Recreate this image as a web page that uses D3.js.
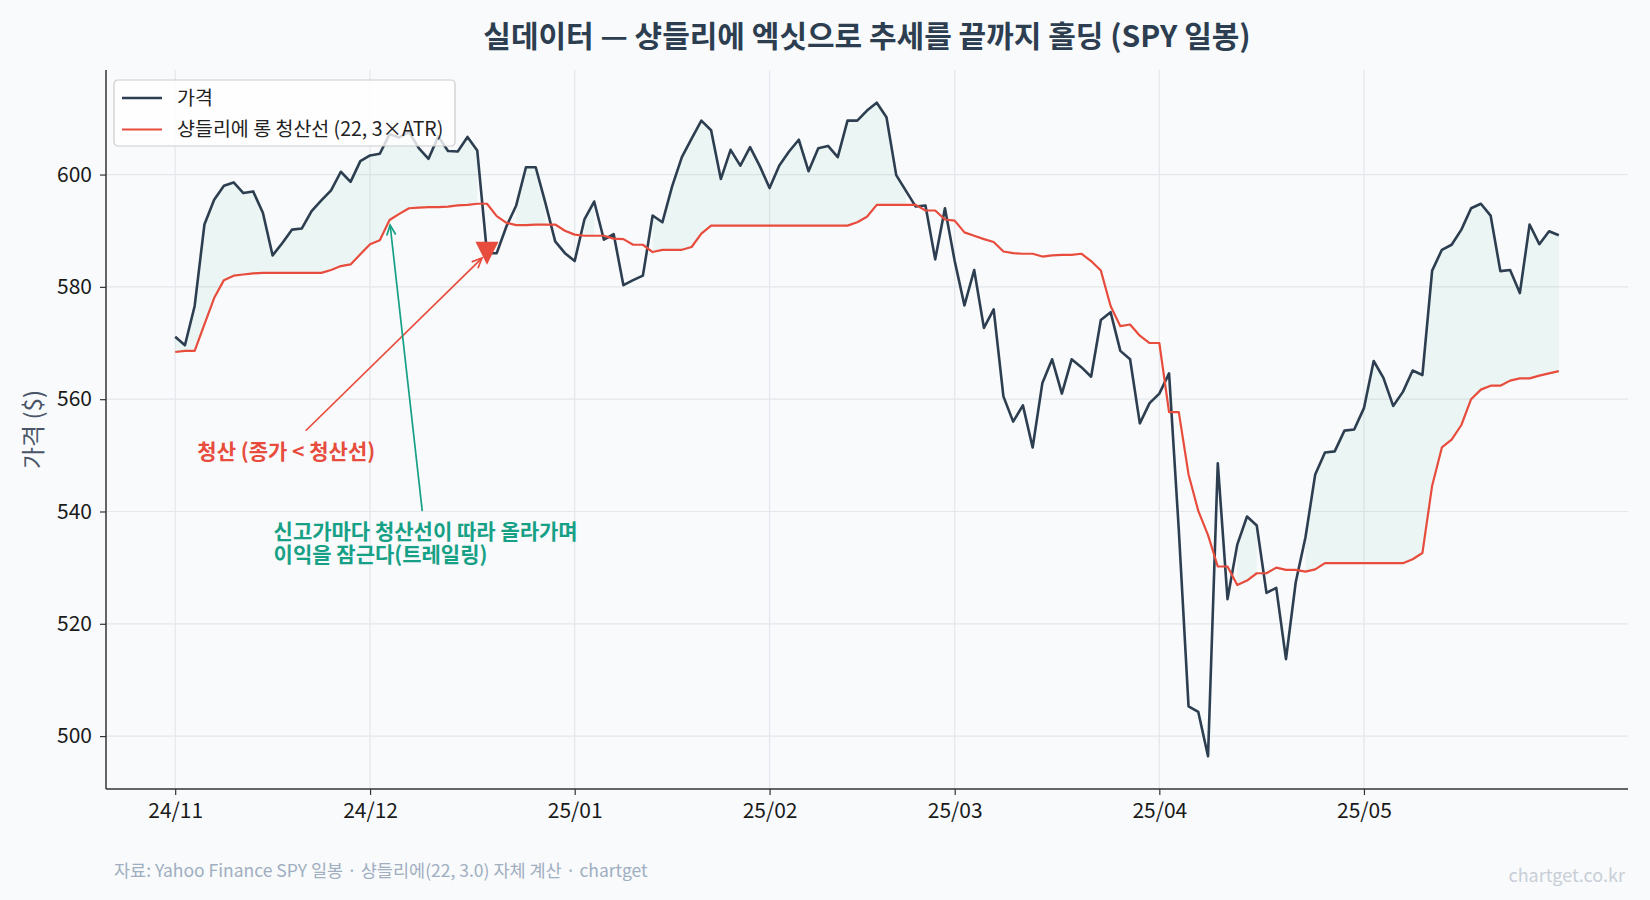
<!DOCTYPE html>
<html>
<head>
<meta charset="utf-8">
<script src="https://d3js.org/d3.v7.min.js"></script>
<style>
  body { margin: 0; background: #f8fafc; }
  svg { display: block; font-family: "Noto Sans CJK KR", "Noto Sans", sans-serif; }
</style>
</head>
<body>
<svg id="chart" width="1650" height="900"></svg>
<script>
// SPY daily close, 2024-11-01 .. 2025-05-30 (one value per trading day)
const price = [
  571.1, 569.6, 576.6, 591.1, 595.5, 598.0, 598.6, 596.7, 597.0, 593.2,
  585.6, 587.8, 590.2, 590.4, 593.5, 595.4, 597.2, 600.5, 598.7, 602.4,
  603.4, 603.7, 607.2, 606.6, 607.6, 604.7, 602.8, 606.8, 604.2, 604.1,
  606.7, 604.3, 586.0, 586.0, 590.8, 594.5, 601.3, 601.3, 594.9, 588.1,
  586.0, 584.6, 592.0, 595.2, 588.4, 589.4, 580.3, 581.2, 582.0, 592.7,
  591.5, 597.9, 603.1, 606.4, 609.6, 607.9, 599.2, 604.4, 601.6, 604.9,
  601.5, 597.6, 601.6, 604.1, 606.2, 600.6, 604.7, 605.1, 603.1, 609.6,
  609.6, 611.4, 612.8, 610.2, 599.9, 597.1, 594.3, 594.5, 584.9, 594.0,
  584.6, 576.7, 583.0, 572.7, 576.0, 560.5, 556.0, 558.9, 551.4, 562.9,
  567.1, 561.0, 567.1, 565.7, 564.0, 574.1, 575.5, 568.6, 567.1, 555.7,
  559.3, 561.0, 564.6, 536.7, 505.3, 504.3, 496.4, 548.6, 524.4, 534.1,
  539.1, 537.5, 525.5, 526.4, 513.7, 527.4, 535.4, 546.6, 550.5, 550.7,
  554.4, 554.6, 558.4, 566.8, 563.8, 558.8, 561.3, 565.1, 564.3, 582.9,
  586.6, 587.5, 590.2, 594.0, 594.8, 592.7, 582.8, 583.0, 578.9, 591.1,
  587.6, 589.9, 589.2
];

// chandelier long exit (22, 3xATR)
const stopLine = [
  568.4, 568.6, 568.6, 573.3, 578.0, 581.2, 582.0, 582.2, 582.4, 582.5,
  582.5, 582.5, 582.5, 582.5, 582.5, 582.5, 583.0, 583.7, 584.0, 585.8,
  587.6, 588.3, 591.9, 593.0, 594.0, 594.1, 594.2, 594.2, 594.3, 594.5,
  594.6, 594.8, 594.8, 592.6, 591.4, 591.0, 591.0, 591.1, 591.1, 591.1,
  590.0, 589.3, 589.1, 589.1, 589.1, 588.6, 588.5, 587.5, 587.5, 586.2,
  586.6, 586.6, 586.6, 587.1, 589.5, 590.9, 590.9, 590.9, 590.9, 590.9,
  590.9, 590.9, 590.9, 590.9, 590.9, 590.9, 590.9, 590.9, 590.9, 590.9,
  591.5, 592.5, 594.6, 594.6, 594.6, 594.6, 594.6, 593.6, 593.6, 592.0,
  591.8, 589.7, 589.1, 588.5, 588.0, 586.3, 586.0, 585.9, 585.9, 585.4,
  585.6, 585.7, 585.7, 585.9, 584.6, 582.9, 576.6, 573.0, 573.3, 571.3,
  570.0, 570.0, 557.7, 557.7, 546.6, 540.1, 535.8, 530.2, 530.2, 526.9,
  527.7, 529.0, 529.0, 530.0, 529.6, 529.6, 529.3, 529.7, 530.8, 530.8,
  530.8, 530.8, 530.8, 530.8, 530.8, 530.8, 530.8, 531.5, 532.6, 544.6,
  551.4, 552.8, 555.4, 560.0, 561.7, 562.4, 562.4, 563.3, 563.7, 563.7,
  564.2, 564.6, 565.0
];

// first trading day of each month (index) and its label
const monthIdx = [0, 20, 41, 61, 80, 101, 122];
const monthLabels = ['24/11', '24/12', '25/01', '25/02', '25/03', '25/04', '25/05'];
const yTicks = [500, 520, 540, 560, 580, 600];

const exitIdx = 32; // close < stop line

const svg = d3.select('#chart');
const W = 1650, H = 900;
const m = {left: 106, right: 22, top: 70, bottom: 111};

svg.append('rect').attr('width', W).attr('height', H).attr('fill', '#f8fafc');

const n = price.length;
const xPad = (n - 1) * 0.05;
const x = d3.scaleLinear()
  .domain([-xPad, n - 1 + xPad])
  .range([m.left, W - m.right]);

const lo = d3.min([d3.min(price), d3.min(stopLine)]);
const hi = d3.max([d3.max(price), d3.max(stopLine)]);
const yPad = (hi - lo) * 0.05;
const y = d3.scaleLinear()
  .domain([lo - yPad, hi + yPad])
  .range([H - m.bottom, m.top]);

// grid
const grid = svg.append('g');
grid.selectAll('.gy').data(yTicks).join('line')
  .attr('x1', m.left).attr('x2', W - m.right)
  .attr('y1', d => y(d)).attr('y2', d => y(d))
  .attr('stroke', '#e4e7eb').attr('stroke-width', 1.2);
grid.selectAll('.gx').data(monthIdx).join('line')
  .attr('x1', d => x(d)).attr('x2', d => x(d))
  .attr('y1', m.top).attr('y2', H - m.bottom)
  .attr('stroke', '#e4e7eb').attr('stroke-width', 1.2);

const idx = d3.range(n);

// profit zone fill (price above stop)
const area = d3.area()
  .defined(i => price[i] > stopLine[i])
  .x(i => x(i))
  .y0(i => y(stopLine[i]))
  .y1(i => y(price[i]));
svg.append('path').datum(idx)
  .attr('d', area)
  .attr('fill', '#27ae60').attr('fill-opacity', 0.06);

const line = vals => d3.line().x(i => x(i)).y(i => y(vals[i]))(idx);

svg.append('path').attr('d', line(price))
  .attr('fill', 'none').attr('stroke', '#2c3e50').attr('stroke-width', 2.6)
  .attr('stroke-linejoin', 'round');
svg.append('path').attr('d', line(stopLine))
  .attr('fill', 'none').attr('stroke', '#e74c3c').attr('stroke-width', 2.2)
  .attr('stroke-linejoin', 'round');

// axes
const xAxis = svg.append('g')
  .attr('transform', `translate(0,${H - m.bottom})`)
  .call(d3.axisBottom(x).tickValues(monthIdx).tickFormat((d, i) => monthLabels[i]).tickSize(6).tickPadding(8));
const yAxis = svg.append('g')
  .attr('transform', `translate(${m.left},0)`)
  .call(d3.axisLeft(y).tickValues(yTicks).tickSize(6).tickPadding(8));
[xAxis, yAxis].forEach(g => {
  g.select('.domain').attr('stroke', '#333').attr('stroke-width', 1.5);
  g.selectAll('.tick line').attr('stroke', '#333').attr('stroke-width', 1.2);
  g.selectAll('.tick text').attr('fill', '#1a1a1a')
    .style('font-size', '21px').style('font-family', '"Noto Sans CJK KR", sans-serif');
});
xAxis.select('.domain').attr('d', `M${m.left},0H${W - m.right}`);
yAxis.select('.domain').attr('d', `M0,${m.top}V${H - m.bottom}`);

// exit marker
const tri = 11.5;
svg.append('path')
  .attr('transform', `translate(${x(exitIdx)},${y(price[exitIdx])})`)
  .attr('d', `M${-tri},${-tri}L${tri},${-tri}L0,${tri}Z`)
  .attr('fill', '#e74c3c');

// annotations
function annotate(lines, tx, ty, anchor, target, color, shrink) {
  const t = svg.append('text')
    .attr('fill', color).attr('font-weight', 700)
    .style('font-size', '21px').attr('text-anchor', anchor);
  lines.forEach((s, k) => {
    t.append('tspan').attr('x', x(tx))
      .attr('y', y(ty) + (k - (lines.length - 1) / 2) * 22.5)
      .attr('dy', '0.35em').text(s);
  });
  const b = t.node().getBBox();
  const cx = b.x + b.width / 2, cy = b.y + b.height / 2;
  const px = x(target[0]), py = y(target[1]);
  const dx = px - cx, dy = py - cy;
  const pad = 4;
  const tx1 = (b.width / 2 + pad) / Math.abs(dx || 1e-9);
  const ty1 = (b.height / 2 + pad) / Math.abs(dy || 1e-9);
  const t0 = Math.min(tx1, ty1);
  const sx = cx + dx * t0, sy = cy + dy * t0;
  const len = Math.hypot(px - sx, py - sy);
  const ux = (px - sx) / len, uy = (py - sy) / len;
  const ex = px - ux * shrink, ey = py - uy * shrink;
  svg.append('line').attr('x1', sx).attr('y1', sy).attr('x2', ex).attr('y2', ey)
    .attr('stroke', color).attr('stroke-width', 1.7);
  const hl = 10, hw = 4.5;
  const bx = ex - ux * hl, by = ey - uy * hl;
  svg.append('path')
    .attr('d', `M${bx - uy * hw},${by + ux * hw}L${ex},${ey}L${bx + uy * hw},${by - ux * hw}`)
    .attr('fill', 'none').attr('stroke', color).attr('stroke-width', 1.7);
}

annotate(['청산 (종가 < 청산선)'], 11.4, 550.7, 'middle',
  [exitIdx, price[exitIdx]], '#e74c3c', 7);
annotate(['신고가마다 청산선이 따라 올라가며', '이익을 잠근다(트레일링)'], 10.1, 534.4, 'start',
  [22, stopLine[22]], '#16a085', 5);

// legend
const lg = svg.append('g').attr('transform', 'translate(114,80)');
lg.append('rect').attr('width', 341).attr('height', 66).attr('rx', 4)
  .attr('fill', '#ffffff').attr('fill-opacity', 0.8)
  .attr('stroke', '#cccccc').attr('stroke-width', 1.2);
const legendItems = [
  {label: '가격', color: '#2c3e50', w: 2.6},
  {label: '샹들리에 롱 청산선 (22, 3×ATR)', color: '#e74c3c', w: 2.2}
];
legendItems.forEach((d, k) => {
  const yy = 18 + k * 31.5;
  lg.append('line').attr('x1', 8).attr('x2', 48).attr('y1', yy).attr('y2', yy)
    .attr('stroke', d.color).attr('stroke-width', d.w);
  lg.append('text').attr('x', 63).attr('y', yy).attr('dy', '0.35em')
    .attr('fill', '#222').style('font-size', '19.5px').text(d.label);
});

// titles and labels
svg.append('text')
  .attr('x', (m.left + W - m.right) / 2).attr('y', 36).attr('dy', '0.35em')
  .attr('text-anchor', 'middle').attr('font-weight', 700)
  .attr('fill', '#2c3e50').style('font-size', '30px')
  .text('실데이터 — 샹들리에 엑싯으로 추세를 끝까지 홀딩 (SPY 일봉)');

svg.append('text')
  .attr('transform', `translate(34,${(m.top + H - m.bottom) / 2}) rotate(-90)`)
  .attr('dy', '0.35em').attr('text-anchor', 'middle')
  .attr('fill', '#4a5568').style('font-size', '24px')
  .text('가격 ($)');

svg.append('text')
  .attr('x', 114).attr('y', 871).attr('dy', '0.35em')
  .attr('fill', '#a0aec0').style('font-size', '17.5px')
  .text('자료: Yahoo Finance SPY 일봉 · 샹들리에(22, 3.0) 자체 계산 · chartget');

svg.append('text')
  .attr('x', 1625).attr('y', 876).attr('dy', '0.35em').attr('text-anchor', 'end')
  .attr('fill', '#c8ced6').style('font-size', '18px')
  .text('chartget.co.kr');
</script>
</body>
</html>
